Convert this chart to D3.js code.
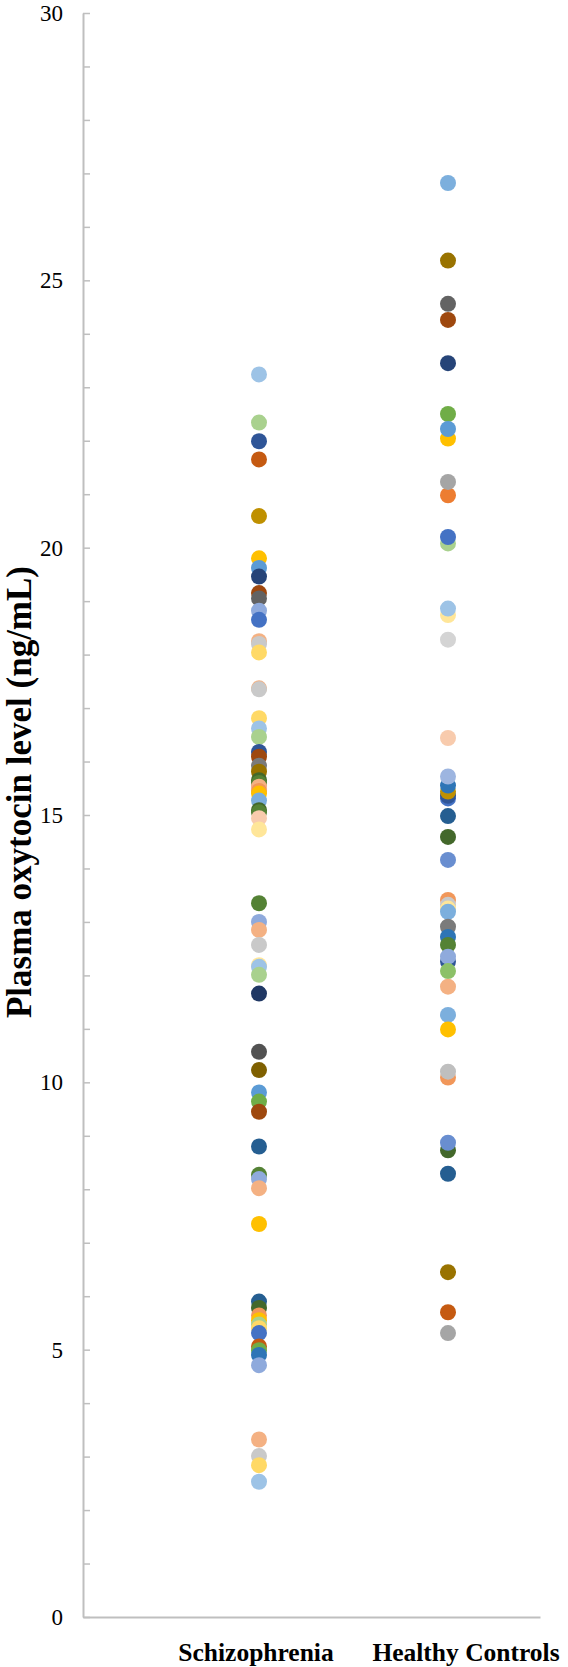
<!DOCTYPE html>
<html>
<head>
<meta charset="utf-8">
<script src="https://cdn.jsdelivr.net/npm/d3@7"></script>
<style>
  body { margin: 0; background: #fff; }
  svg { display: block; }
</style>
</head>
<body>
<div id="chart"></div>
<script>
// categories on the x axis
var categories = ["Schizophrenia", "Healthy Controls"];

// plasma oxytocin (ng/mL), in drawing order
var schizophreniaValues = [23.24, 22.34, 21.99, 21.65, 20.59, 19.80, 19.62, 19.46, 19.15, 19.05,
  18.82, 18.65, 18.25, 18.20, 18.04, 17.37, 17.35, 16.81, 16.62, 16.46,
  16.18, 16.09, 15.92, 15.81, 15.65, 15.60, 15.53, 15.45, 15.40, 15.27,
  15.09, 15.05, 14.94, 14.73, 13.35, 13.00, 12.85, 12.57, 12.19, 12.16,
  12.01, 11.66, 10.57, 10.23, 9.81, 9.64, 9.45, 8.80, 8.27, 8.19,
  8.02, 7.35, 5.90, 5.78, 5.64, 5.55, 5.47, 5.40, 5.31, 5.06,
  4.99, 4.90, 4.71, 3.32, 3.01, 2.84, 2.53];
var schizophreniaColors = ["#9DC3E6", "#A9D18E", "#2F5597", "#C55A11", "#BF9000", "#FFC000", "#5B9BD5", "#264478", "#9E480E", "#636363",
  "#8FAADC", "#4472C4", "#F4B183", "#C9C9C9", "#FFD966", "#F4B183", "#C9C9C9", "#FFD966", "#9DC3E6", "#A9D18E",
  "#2F5597", "#9E480E", "#7B7B7B", "#997300", "#43682B", "#548235", "#F4B183", "#F1975A", "#FFC000", "#7CAFDD",
  "#43682B", "#548235", "#F8CBAD", "#FFE699", "#548235", "#8FAADC", "#F4B183", "#C9C9C9", "#FFE699", "#9DC3E6",
  "#A9D18E", "#203864", "#525252", "#7F6000", "#5B9BD5", "#70AD47", "#9E480E", "#255E91", "#548235", "#8FAADC",
  "#F4B183", "#FFC000", "#255E91", "#43682B", "#F1975A", "#FFC000", "#A9D18E", "#FFD966", "#4472C4", "#C55A11",
  "#70AD47", "#2E75B6", "#8FAADC", "#F4B183", "#C9C9C9", "#FFD966", "#9DC3E6"];

var controlValues = [26.82, 25.37, 24.56, 24.26, 23.45, 22.50, 22.04, 22.22, 20.98, 21.23,
  20.08, 20.20, 18.74, 18.86, 18.28, 16.44, 15.31, 15.36, 15.44, 15.55,
  15.72, 14.98, 14.59, 14.16, 13.41, 13.32, 13.25, 13.19, 12.91, 12.72,
  12.57, 12.26, 12.35, 12.08, 11.79, 11.26, 10.99, 10.09, 10.20, 8.73,
  8.87, 8.29, 6.45, 5.70, 5.31];
var controlColors = ["#7CAFDD", "#997300", "#636363", "#9E480E", "#264478", "#70AD47", "#FFC000", "#5B9BD5", "#ED7D31", "#A5A5A5",
  "#A9D18E", "#4472C4", "#FFE699", "#9DC3E6", "#D4D4D4", "#F8CBAD", "#4472C4", "#2F5597", "#BF9000", "#2E75B6",
  "#9DB5E0", "#255E91", "#43682B", "#698ED0", "#F1975A", "#C9C9C9", "#FFE699", "#7CAFDD", "#7B7B7B", "#2E75B6",
  "#548235", "#2F5597", "#8FAADC", "#8CC168", "#F4B183", "#7CAFDD", "#FFC000", "#F1975A", "#BFBFBF", "#43682B",
  "#698ED0", "#255E91", "#997300", "#C55A11", "#A5A5A5"];

var yTickLabels = [0, 5, 10, 15, 20, 25, 30];
var yTitle = "Plasma oxytocin level (ng/mL)";

var width = 568, height = 1667;
var axisLeftX = 83, axisRightX = 540;
var serif = "'Liberation Serif', 'Times New Roman', serif";

var svg = d3.select("#chart").append("svg")
    .attr("width", width)
    .attr("height", height);

var y = d3.scaleLinear().domain([0, 30]).range([1617, 13]);
var x = d3.scalePoint().domain(categories).range([259, 448]);
var xLabel = d3.scalePoint().domain(categories).range([256, 466]);

// minor ticks every unit, pointing inward
var yTicks = svg.append("g")
    .attr("transform", "translate(" + axisLeftX + ",0)")
    .call(d3.axisRight(y).ticks(30).tickSize(7).tickSizeOuter(0).tickFormat(""));
yTicks.select(".domain").attr("stroke", "#bfbfbf").attr("stroke-width", 2);
yTicks.selectAll(".tick line").attr("stroke", "#bfbfbf").attr("stroke-width", 1.5);

// labels every 5
var yLabels = svg.append("g")
    .attr("transform", "translate(" + axisLeftX + ",0)")
    .call(d3.axisLeft(y).tickValues(yTickLabels).tickSize(0).tickPadding(20));
yLabels.select(".domain").remove();
yLabels.selectAll("text")
    .attr("font-family", serif)
    .attr("font-size", 23)
    .attr("fill", "#000");

// x axis line
var xLine = d3.scaleLinear().domain([0, 1]).range([axisLeftX, axisRightX]);
var xAxis = svg.append("g")
    .attr("transform", "translate(0," + y(0) + ")")
    .call(d3.axisBottom(xLine).ticks(0).tickSizeOuter(0));
xAxis.select(".domain").attr("stroke", "#bfbfbf").attr("stroke-width", 2);

svg.append("g").selectAll("text")
    .data(categories)
    .enter().append("text")
    .attr("x", function(d) { return xLabel(d); })
    .attr("y", 1661)
    .attr("text-anchor", "middle")
    .attr("font-family", serif)
    .attr("font-weight", "bold")
    .attr("font-size", 25.5)
    .text(function(d) { return d; });

svg.append("text")
    .attr("transform", "translate(19,792) rotate(-90)")
    .attr("text-anchor", "middle")
    .attr("dominant-baseline", "central")
    .attr("font-family", serif)
    .attr("font-weight", "bold")
    .attr("font-size", 35)
    .text(yTitle);

var groups = [
  {name: categories[0], values: schizophreniaValues, colors: schizophreniaColors},
  {name: categories[1], values: controlValues, colors: controlColors}
];

groups.forEach(function(g) {
  svg.append("g").selectAll("circle")
      .data(g.values)
      .enter().append("circle")
      .attr("cx", x(g.name))
      .attr("cy", function(d) { return y(d); })
      .attr("r", 8)
      .attr("fill", function(d, i) { return g.colors[i]; });
});
</script>
</body>
</html>
